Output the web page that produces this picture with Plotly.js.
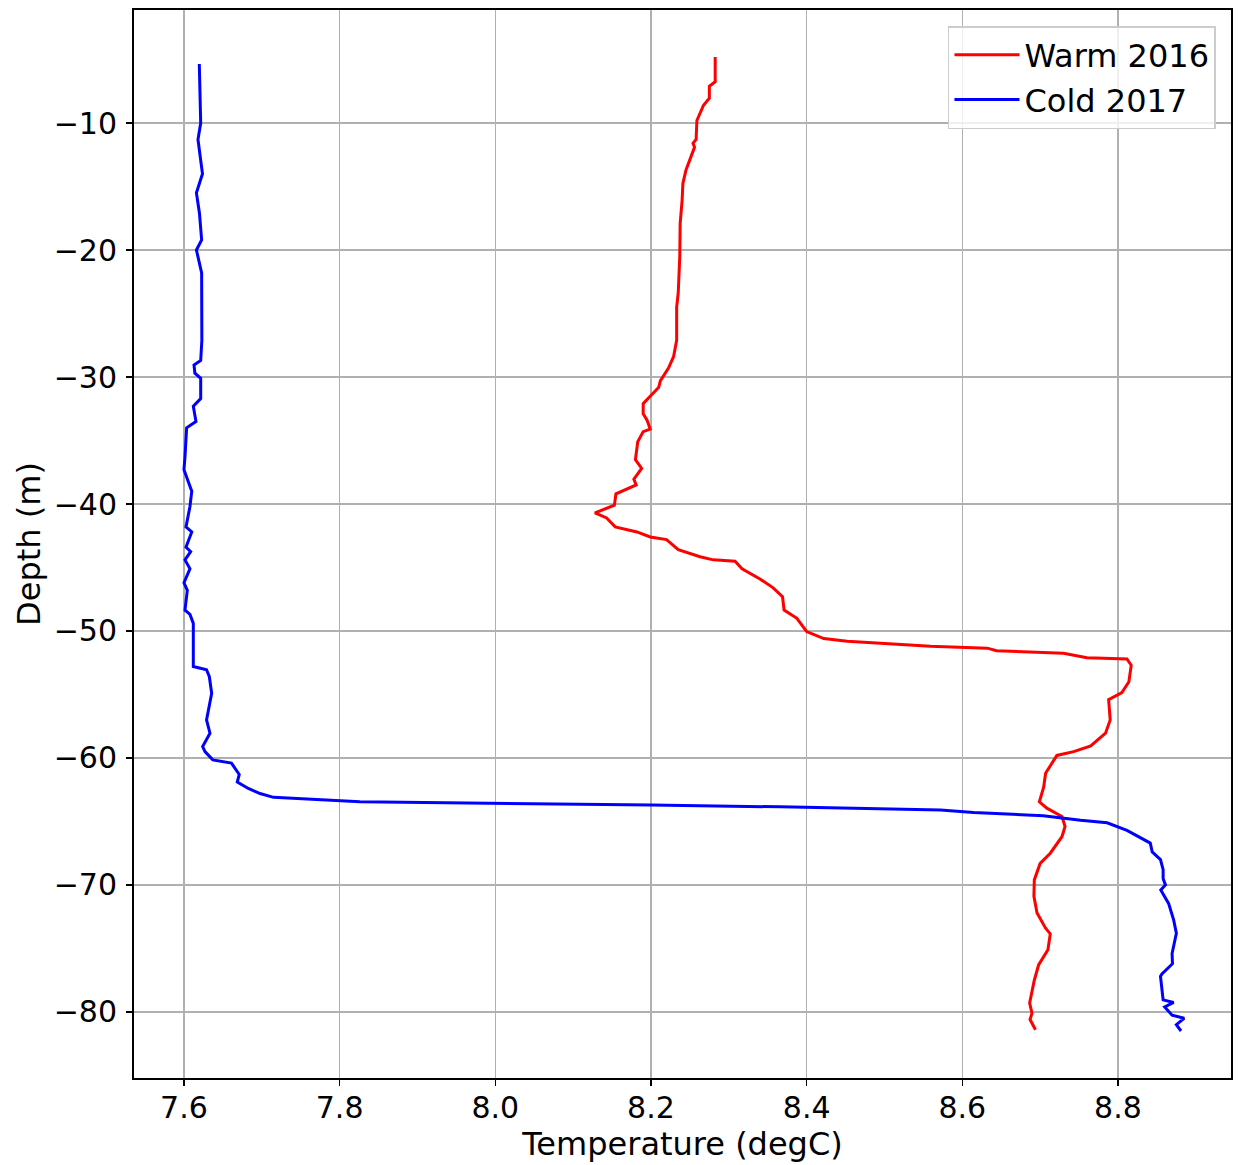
<!DOCTYPE html>
<html>
<head>
<meta charset="utf-8">
<script src="https://cdn.plot.ly/plotly-3.0.1.min.js"></script>
<style>html,body{margin:0;padding:0;background:#fff;}#chart{width:1238px;height:1165px;}</style>
</head>
<body>
<div id="chart"></div>
<script>
// Warm 2016 profile (temperature degC, depth m)
const warmTemp = [8.2825, 8.2825, 8.275, 8.275, 8.2675, 8.259, 8.258, 8.254, 8.256, 8.251, 8.245, 8.241, 8.240, 8.2375, 8.237, 8.235, 8.233, 8.233, 8.229, 8.2225, 8.212,
  8.21, 8.199, 8.19, 8.19, 8.195, 8.199, 8.19, 8.183, 8.18, 8.188, 8.178, 8.181, 8.155, 8.153, 8.128, 8.143, 8.154, 8.182, 8.199, 8.22, 8.235, 8.263, 8.28, 8.308, 8.317, 8.34, 8.357, 8.369, 8.371, 8.3875, 8.40,
  8.422, 8.452, 8.559, 8.632, 8.644, 8.73, 8.76, 8.8115, 8.817, 8.814, 8.805, 8.788, 8.79, 8.784, 8.765, 8.743, 8.7215, 8.715, 8.707, 8.7045, 8.699,
  8.7085, 8.728, 8.732, 8.728, 8.713, 8.70, 8.6925, 8.692, 8.696, 8.707, 8.713, 8.71, 8.698, 8.6925, 8.6865, 8.6895, 8.687, 8.694];
const warmDepth = [-4.8, -6.75, -7.1, -8.05, -8.6, -9.8, -11.3, -11.6, -11.9, -12.8, -13.7, -14.75, -16.1, -17.9, -20.5, -23.4, -24.5, -27.1, -28.4, -29.3, -30.3,
  -30.8, -31.55, -32.1, -32.9, -33.4, -34.1, -34.3, -35.1, -36.5, -37.2, -38.05, -38.5, -39.2, -40.1, -40.7, -41.1, -41.8, -42.2, -42.6, -42.8, -43.6, -44.15, -44.4, -44.5, -45.1, -45.9, -46.6, -47.3, -48.35, -49.0, -50.05,
  -50.6, -50.8, -51.2, -51.35, -51.55, -51.75, -52.1, -52.2, -52.7, -54.0, -54.85, -55.4, -57.0, -58.05, -59.05, -59.5, -59.8, -60.4, -61.2, -62.3, -63.45,
  -63.95, -64.6, -65.4, -66.2, -67.5, -68.3, -69.6, -70.9, -72.2, -73.4, -73.85, -75.1, -76.3, -77.5, -79.3, -80.1, -80.6, -81.4];

// Cold 2017 profile (temperature degC, depth m)
const coldTemp = [7.6197, 7.6206, 7.6215, 7.618, 7.622, 7.6238, 7.616, 7.6199, 7.6227, 7.616, 7.6227, 7.623, 7.623, 7.6215, 7.6129, 7.614, 7.6215, 7.6215, 7.612, 7.6154, 7.6034, 7.6013, 7.600, 7.61, 7.6077, 7.6026, 7.61,
  7.6026, 7.6086, 7.6013, 7.6077, 7.600, 7.6043, 7.6013, 7.6077, 7.612, 7.612, 7.629, 7.6326, 7.6356, 7.629, 7.6334, 7.624, 7.627, 7.637, 7.661, 7.671, 7.6685, 7.6827, 7.6977, 7.715,
  7.826, 8.0, 8.2, 8.366, 8.572, 8.6145, 8.704, 8.752, 8.786, 8.8115, 8.829, 8.8415, 8.844, 8.8546, 8.858, 8.858, 8.861, 8.855, 8.865, 8.8715, 8.875, 8.8695, 8.870, 8.8565, 8.8546, 8.8565, 8.858, 8.8715, 8.86, 8.8695, 8.885, 8.875, 8.881];
const coldDepth = [-5.35, -7.4, -10.0, -11.3, -13.0, -14.0, -15.5, -17.1, -19.2, -20.0, -21.8, -24.5, -27.1, -28.7, -29.05, -29.7, -30.1, -31.7, -32.3, -33.5, -34.0, -36.3, -37.3, -39.0, -40.2, -41.8, -42.2,
  -43.4, -43.75, -44.4, -45.1, -46.2, -46.8, -48.35, -48.7, -49.4, -52.8, -53.05, -53.6, -54.9, -57.0, -58.05, -59.1, -59.5, -60.15, -60.4, -61.3, -61.9, -62.4, -62.8, -63.1,
  -63.45, -63.55, -63.7, -63.85, -64.1, -64.3, -64.55, -64.9, -65.1, -65.7, -66.3, -66.7, -67.4, -68.0, -68.8, -69.5, -70.0, -70.4, -71.45, -72.75, -73.8, -75.4, -76.2, -77.0, -77.2, -78.5, -79.05, -79.25, -79.6, -80.25, -80.5, -81.0, -81.5];

const xTicks = [7.6, 7.8, 8.0, 8.2, 8.4, 8.6, 8.8];
const xTickText = ['7.6', '7.8', '8.0', '8.2', '8.4', '8.6', '8.8'];
const yTicks = [-80, -70, -60, -50, -40, -30, -20, -10];

const FONT = 'DejaVu Sans, sans-serif';

const traces = [
  {x: warmTemp, y: warmDepth, type: 'scatter', mode: 'lines', name: 'Warm 2016',
   line: {color: '#ff0000', width: 3}},
  {x: coldTemp, y: coldDepth, type: 'scatter', mode: 'lines', name: 'Cold 2017',
   line: {color: '#0000ff', width: 3}}
];

const axisCommon = {
  showline: true, linecolor: '#000000', linewidth: 2, mirror: true,
  showgrid: true, gridcolor: '#b0b0b0', gridwidth: 1.5,
  zeroline: false, ticks: 'outside', ticklen: 6, tickwidth: 1.5, tickcolor: '#000000',
  tickfont: {family: FONT, size: 30, color: '#000000'},
  automargin: false
};

const layout = {
  width: 1238, height: 1165,
  margin: {l: 134, r: 7, t: 10, b: 87},
  paper_bgcolor: '#ffffff', plot_bgcolor: '#ffffff',
  font: {family: FONT, color: '#000000'},
  xaxis: Object.assign({}, axisCommon, {
    range: [7.5358, 8.9452], tickmode: 'array', tickvals: xTicks, ticktext: xTickText,
    ticklabelstandoff: -4,
    title: {text: 'Temperature (degC)', font: {family: FONT, size: 32, color: '#000000'}, standoff: 2}
  }),
  yaxis: Object.assign({}, axisCommon, {
    range: [-85.2, -1.1], tickmode: 'array', tickvals: yTicks,
    ticklabelstandoff: 3,
    title: {text: 'Depth (m)', font: {family: FONT, size: 32, color: '#000000'}, standoff: 3}
  }),
  showlegend: true,
  legend: {
    x: 0.9863, y: 0.985, xanchor: 'right', yanchor: 'top',
    bgcolor: 'rgba(255,255,255,0.8)', bordercolor: '#cccccc', borderwidth: 1.5,
    font: {family: FONT, size: 32, color: '#000000'},
    itemwidth: 65,
    tracegroupgap: 0
  }
};

Plotly.newPlot('chart', traces, layout, {displayModeBar: false, staticPlot: true});
</script>
</body>
</html>
